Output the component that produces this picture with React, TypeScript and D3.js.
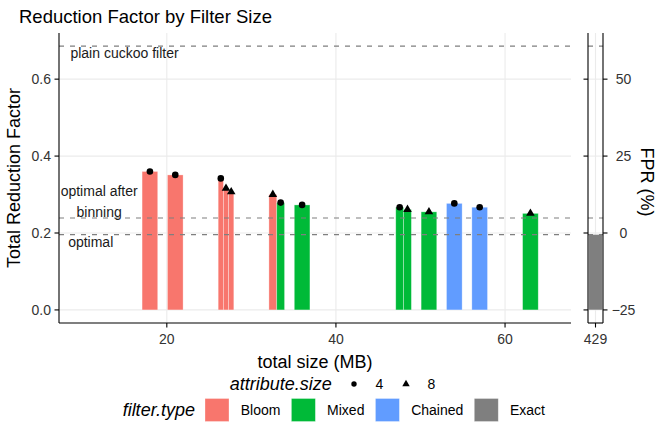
import * as d3 from "d3";

// bars of the main panel (x = total size in MB)
const sizes = [18, 21, 27, 27, 27, 33, 33, 36, 48, 48, 51, 54, 57, 63];
const filterTypes = ["Bloom", "Bloom", "Bloom", "Bloom", "Bloom", "Bloom", "Mixed", "Mixed", "Mixed", "Mixed", "Mixed", "Chained", "Chained", "Mixed"];
const attributeSizes = [4, 4, 4, 8, 8, 8, 4, 4, 4, 8, 8, 4, 4, 8];
const reductions = [0.36, 0.351, 0.342, 0.316, 0.307, 0.3, 0.279, 0.273, 0.267, 0.261, 0.255, 0.277, 0.267, 0.251];

// the exact filter, drawn in its own panel
const exactSizes = ["429"];
const exactReductions = [0.196];

// reference lines and their labels
const refValues = [0.686, 0.239, 0.196];
const refLabels = ["plain cuckoo filter", "optimal after\nbinning", "optimal"];
const refLabelX = [15, 12, 11];
const refLabelY = [0.668, 0.281, 0.176];

const typeNames = ["Bloom", "Mixed", "Chained", "Exact"];
const typeColors = ["#F8766D", "#00BA38", "#619CFF", "#7F7F7F"];
const attrNames = [4, 8];

const xTicks = [20, 40, 60];
const yTicks = [0, 0.2, 0.4, 0.6];
const fprTicks = [-25, 0, 25, 50];

const W = 664;
const H = 427;
const FONT = "'Liberation Sans', Arial, Helvetica, sans-serif";
const BAR_WIDTH = 1.85;

function textWidth(s: string, size: number, italic = false) {
  const ctx = document.createElement("canvas").getContext("2d");
  if (!ctx) return s.length * size * 0.5;
  ctx.font = `${italic ? "italic " : ""}${size}px ${FONT}`;
  return ctx.measureText(s).width;
}

export default function App() {
  const panel = { left: 59, right: 571, top: 33, bottom: 323 };
  const side = { left: 588, right: 603 };

  const x = d3.scaleLinear().domain([7.25, 67.8]).range([panel.left, panel.right]);
  const y = d3.scaleLinear().domain([-0.034, 0.72]).range([panel.bottom, panel.top]);
  // secondary axis: FPR (%) = (reduction - 0.2) * 125
  const fpr = d3.scaleLinear().domain(y.domain().map((v) => (v - 0.2) * 125)).range(y.range());
  const xs = d3.scaleBand().domain(exactSizes).range([side.left, side.right]).padding(0.05);
  const color = d3.scaleOrdinal<string, string>().domain(typeNames).range(typeColors);

  // dodge bars that share the same size
  const rows = sizes.map((s, i) => ({
    size: s,
    type: filterTypes[i],
    attr: attributeSizes[i],
    value: reductions[i],
  }));
  const groups = d3.group(rows, (d) => d.size);
  const bars = rows.map((d) => {
    const g = groups.get(d.size)!;
    const k = g.indexOf(d);
    const w = BAR_WIDTH / g.length;
    const x0 = d.size - BAR_WIDTH / 2 + k * w;
    return { ...d, x0, x1: x0 + w };
  });

  const tri = d3.symbol(d3.symbolTriangle, 32)()!;
  const legTri = d3.symbol(d3.symbolTriangle, 24)()!;

  // legend layout
  const keyX: number[] = [];
  let cx = 205;
  typeNames.forEach((n) => {
    keyX.push(cx);
    cx += 35.7 + textWidth(n, 14) + 11;
  });

  const grid = "#EBEBEB";
  const tickCol = "#333";

  return (
    <svg width={W} height={H} style={{ position: "absolute", left: 0, top: 0, background: "#fff" }} fontFamily={FONT}>
      <text x={19} y={23} fontSize={18.5} fill="#000">Reduction Factor by Filter Size</text>

      {/* main panel grid */}
      {yTicks.map((t) => (
        <line key={"gy" + t} x1={panel.left} x2={panel.right} y1={y(t)} y2={y(t)} stroke={grid} strokeWidth={1.1} />
      ))}
      {xTicks.map((t) => (
        <line key={"gx" + t} x1={x(t)} x2={x(t)} y1={panel.top} y2={panel.bottom} stroke={grid} strokeWidth={1.1} />
      ))}

      {/* side panel grid */}
      {yTicks.map((t) => (
        <line key={"sy" + t} x1={side.left} x2={side.right} y1={y(t)} y2={y(t)} stroke={grid} strokeWidth={1.1} />
      ))}
      <line x1={xs("429")! + xs.bandwidth() / 2} x2={xs("429")! + xs.bandwidth() / 2} y1={panel.top} y2={panel.bottom} stroke={grid} strokeWidth={1.1} />

      {/* bars */}
      {bars.map((d, i) => (
        <rect
          key={"b" + i}
          x={x(d.x0)}
          width={x(d.x1) - x(d.x0)}
          y={y(d.value)}
          height={y(0) - y(d.value)}
          fill={color(d.type)}
          stroke="#fff"
          strokeOpacity={0.45}
          strokeWidth={0.7}
        />
      ))}
      {exactSizes.map((s, i) => (
        <rect
          key={"e" + i}
          x={xs(s)}
          width={xs.bandwidth()}
          y={y(exactReductions[i])}
          height={y(0) - y(exactReductions[i])}
          fill={color("Exact")}
          stroke="#fff"
          strokeOpacity={0.45}
          strokeWidth={0.7}
        />
      ))}

      {/* reference lines */}
      {refValues.map((v, i) => (
        <g key={"r" + i} stroke="#7F7F7F" strokeWidth={1.2} strokeDasharray="5,6">
          <line x1={panel.left} x2={panel.right} y1={y(v)} y2={y(v)} />
          <line x1={side.left} x2={side.right} y1={y(v)} y2={y(v)} />
        </g>
      ))}
      {refLabels.map((l, i) => {
        const lines = l.split("\n");
        return (
          <text key={"rl" + i} x={x(refLabelX[i])} y={y(refLabelY[i])} fontSize={14} fill="#1a1a1a" textAnchor="middle">
            {lines.map((s, j) => (
              <tspan key={j} x={x(refLabelX[i])} dy={j === 0 ? `${0.35 - (lines.length - 1) * 0.74}em` : "1.48em"}>
                {s}
              </tspan>
            ))}
          </text>
        );
      })}

      {/* points */}
      {bars.map((d, i) =>
        d.attr === 4 ? (
          <circle key={"p" + i} cx={x((d.x0 + d.x1) / 2)} cy={y(d.value)} r={3.3} fill="#000" />
        ) : (
          <path key={"p" + i} d={tri} transform={`translate(${x((d.x0 + d.x1) / 2)},${y(d.value)})`} fill="#000" />
        )
      )}

      {/* main axes */}
      <line x1={panel.left} x2={panel.left} y1={panel.top} y2={panel.bottom} stroke="#000" strokeWidth={1.1} />
      <line x1={panel.left} x2={panel.right} y1={panel.bottom} y2={panel.bottom} stroke="#000" strokeWidth={1.1} />
      {yTicks.map((t) => (
        <g key={"yt" + t}>
          <line x1={panel.left - 4.5} x2={panel.left} y1={y(t)} y2={y(t)} stroke="#000" strokeWidth={1.1} />
          <text x={panel.left - 8} y={y(t)} dy="0.35em" textAnchor="end" fontSize={14} fill={tickCol}>
            {d3.format(".1f")(t)}
          </text>
        </g>
      ))}
      {xTicks.map((t) => (
        <g key={"xt" + t}>
          <line x1={x(t)} x2={x(t)} y1={panel.bottom} y2={panel.bottom + 4.5} stroke="#000" strokeWidth={1.1} />
          <text x={x(t)} y={panel.bottom + 16} dy="0.35em" textAnchor="middle" fontSize={14} fill={tickCol}>
            {t}
          </text>
        </g>
      ))}

      {/* side panel axes */}
      <line x1={side.left} x2={side.left} y1={panel.top} y2={panel.bottom} stroke="#000" strokeWidth={1.1} />
      <line x1={side.right} x2={side.right} y1={panel.top} y2={panel.bottom} stroke="#000" strokeWidth={1.1} />
      <line x1={side.left} x2={side.right} y1={panel.bottom} y2={panel.bottom} stroke="#000" strokeWidth={1.1} />
      {fprTicks.map((t) => (
        <g key={"ft" + t}>
          <line x1={side.left - 4.5} x2={side.left} y1={fpr(t)} y2={fpr(t)} stroke="#000" strokeWidth={1.1} />
          <line x1={side.right} x2={side.right + 4.5} y1={fpr(t)} y2={fpr(t)} stroke="#000" strokeWidth={1.1} />
          <text x={623.5} y={fpr(t)} dy="0.35em" textAnchor="middle" fontSize={14} fill={tickCol}>
            {t < 0 ? "\u2212" + Math.abs(t) : t}
          </text>
        </g>
      ))}
      {exactSizes.map((s) => (
        <g key={"xs" + s}>
          <line x1={xs(s)! + xs.bandwidth() / 2} x2={xs(s)! + xs.bandwidth() / 2} y1={panel.bottom} y2={panel.bottom + 4.5} stroke="#000" strokeWidth={1.1} />
          <text x={xs(s)! + xs.bandwidth() / 2} y={panel.bottom + 16} dy="0.35em" textAnchor="middle" fontSize={14} fill={tickCol}>
            {s}
          </text>
        </g>
      ))}

      {/* axis titles */}
      <text transform={`translate(14,${(panel.top + panel.bottom) / 2}) rotate(-90)`} dy="0.35em" textAnchor="middle" fontSize={18} fill="#000">
        Total Reduction Factor
      </text>
      <text transform={`translate(647,${(panel.top + panel.bottom) / 2 + 4}) rotate(90)`} dy="0.35em" textAnchor="middle" fontSize={18} fill="#000">
        FPR (%)
      </text>
      <text x={(panel.left + panel.right) / 2} y={361.5} dy="0.35em" textAnchor="middle" fontSize={18} fill="#000">
        total size (MB)
      </text>

      {/* legends */}
      <text x={331.7} y={384} dy="0.35em" textAnchor="end" fontSize={18} fontStyle="italic" fill="#000">
        attribute.size
      </text>
      {attrNames.map((a, i) => (
        <g key={"la" + a} transform={`translate(${354 + i * 52},384)`}>
          {a === 4 ? <circle r={2.7} fill="#000" /> : <path d={legTri} fill="#000" />}
          <text x={21.5} dy="0.35em" fontSize={14} fill="#000">
            {a}
          </text>
        </g>
      ))}
      <text x={195} y={410} dy="0.35em" textAnchor="end" fontSize={18} fontStyle="italic" fill="#000">
        filter.type
      </text>
      {typeNames.map((n, i) => (
        <g key={"lt" + n}>
          <rect x={keyX[i]} y={398.5} width={24} height={23} fill={color(n)} stroke="#fff" strokeOpacity={0.45} strokeWidth={0.7} />
          <text x={keyX[i] + 35.7} y={410} dy="0.35em" fontSize={14} fill="#000">
            {n}
          </text>
        </g>
      ))}
    </svg>
  );
}
